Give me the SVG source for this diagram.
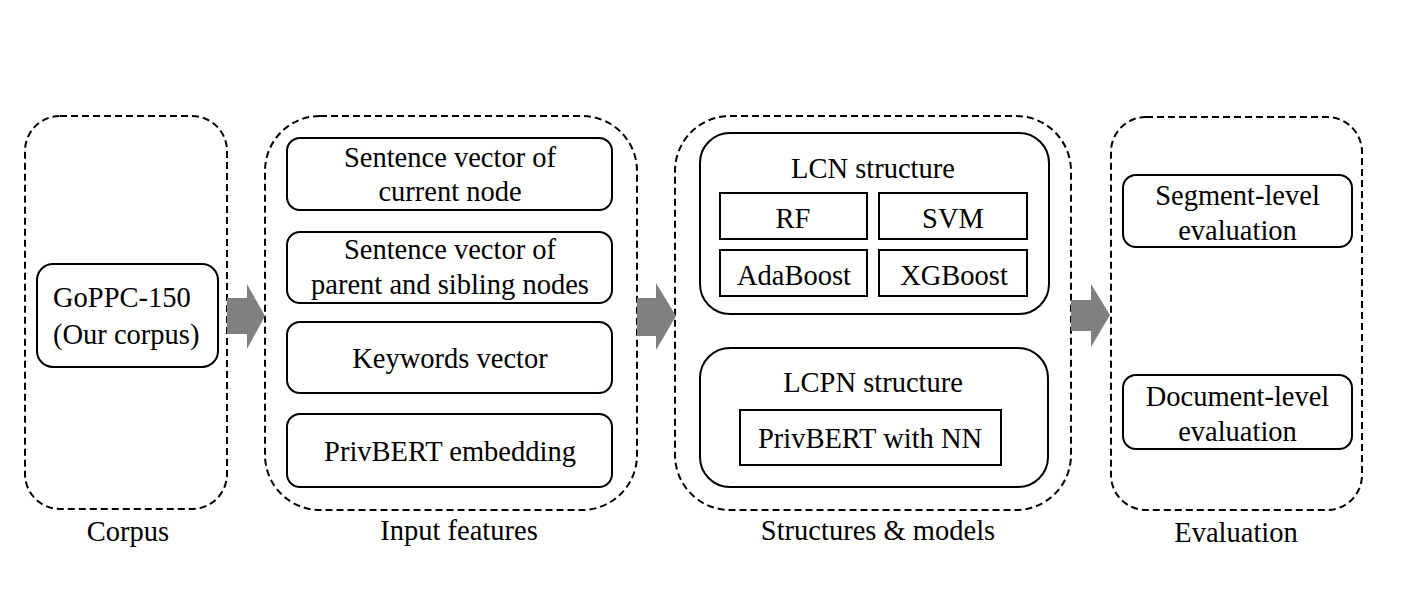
<svg xmlns="http://www.w3.org/2000/svg" width="1414" height="600" viewBox="0 0 1414 600">
<style>
.dash{fill:none;stroke:#000;stroke-width:2;stroke-dasharray:7 4}
.box{fill:#fff;stroke:#000;stroke-width:2}
.t{font-family:"Liberation Serif","Times New Roman",serif;font-size:28.5px;fill:#000;text-anchor:middle}
.arr{fill:#808080;stroke:none}
</style>
<rect width="1414" height="600" fill="#fff"/>

<g id="corpus">
<rect class="dash" x="25" y="116" width="202" height="393" rx="35" ry="35"/>
<text class="t" x="128" y="541">Corpus</text>
</g>
<g id="goppc">
<rect class="box" x="37" y="264" width="181" height="103" rx="16" ry="16"/>
<text class="t" x="53" y="307" style="text-anchor:start">GoPPC-150</text>
<text class="t" x="53" y="344" style="text-anchor:start">(Our corpus)</text>
</g>

<g id="input-features">
<rect class="dash" x="265" y="116" width="372" height="394" rx="55" ry="55"/>
<text class="t" x="459" y="540">Input features</text>
</g>
<g id="feat-current">
<rect class="box" x="287" y="138" width="325" height="72" rx="13" ry="13"/>
<text class="t" x="450" y="167">Sentence vector of</text>
<text class="t" x="450" y="201">current node</text>
</g>
<g id="feat-parent">
<rect class="box" x="287" y="232" width="325" height="71" rx="13" ry="13"/>
<text class="t" x="450" y="259">Sentence vector of</text>
<text class="t" x="450" y="294">parent and sibling nodes</text>
</g>
<g id="feat-keywords">
<rect class="box" x="287" y="322" width="325" height="71" rx="13" ry="13"/>
<text class="t" x="450" y="368">Keywords vector</text>
</g>
<g id="feat-privbert">
<rect class="box" x="287" y="414" width="325" height="73" rx="13" ry="13"/>
<text class="t" x="450" y="461">PrivBERT embedding</text>
</g>

<g id="structures">
<rect class="dash" x="675" y="116" width="396" height="394" rx="55" ry="55"/>
<text class="t" x="878" y="540">Structures &amp; models</text>
</g>
<g id="lcn">
<rect class="box" x="700" y="133" width="349" height="181" rx="30" ry="30"/>
<text class="t" x="873" y="178">LCN structure</text>
</g>
<g id="rf">
<rect class="box" x="720" y="193" width="147" height="46"/>
<text class="t" x="793" y="228">RF</text>
</g>
<g id="svm">
<rect class="box" x="879" y="193" width="148" height="46"/>
<text class="t" x="953" y="228">SVM</text>
</g>
<g id="adaboost">
<rect class="box" x="720" y="250" width="147" height="46"/>
<text class="t" x="794" y="285">AdaBoost</text>
</g>
<g id="xgboost">
<rect class="box" x="879" y="250" width="148" height="46"/>
<text class="t" x="954" y="285">XGBoost</text>
</g>
<g id="lcpn">
<rect class="box" x="700" y="348" width="348" height="139" rx="30" ry="30"/>
<text class="t" x="873" y="392">LCPN structure</text>
</g>
<g id="privbert-nn">
<rect class="box" x="740" y="410" width="261" height="55"/>
<text class="t" x="870" y="448">PrivBERT with NN</text>
</g>

<g id="evaluation">
<rect class="dash" x="1111" y="117" width="251" height="393" rx="35" ry="35"/>
<text class="t" x="1236" y="542">Evaluation</text>
</g>
<g id="segment-level">
<rect class="box" x="1123" y="175" width="229" height="72" rx="13" ry="13"/>
<text class="t" x="1237.5" y="205">Segment-level</text>
<text class="t" x="1237.5" y="240">evaluation</text>
</g>
<g id="document-level">
<rect class="box" x="1123" y="375" width="229" height="74" rx="13" ry="13"/>
<text class="t" x="1237.5" y="406">Document-level</text>
<text class="t" x="1237.5" y="441">evaluation</text>
</g>

<g id="connectors">
<polygon class="arr" points="227,298 247,298 247,284 265,316 247,349 247,334 227,334"/>
<polygon class="arr" points="637,298 656,298 656,283 676,316 656,350 656,336 637,336"/>
<polygon class="arr" points="1071,300 1091,300 1091,284 1110,315 1091,347 1091,331 1071,331"/>
</g>
</svg>
